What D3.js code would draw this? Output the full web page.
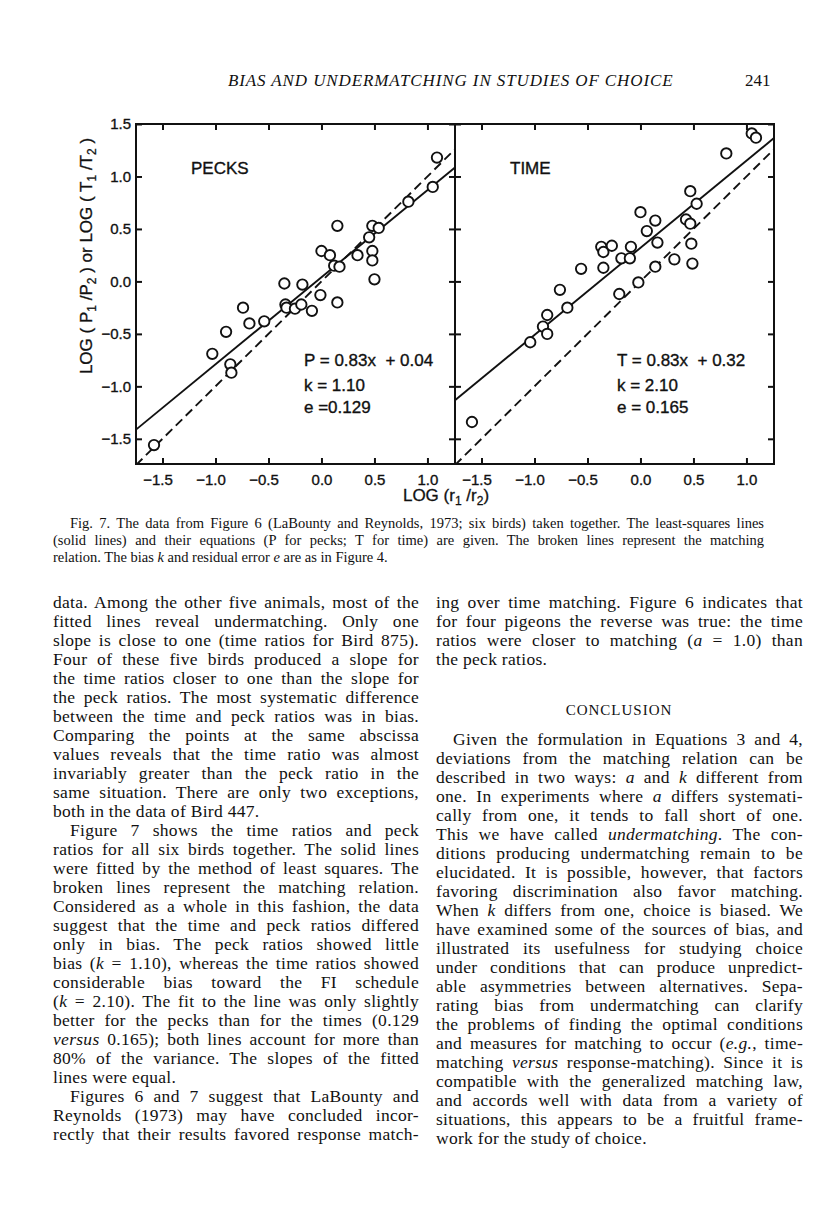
<!DOCTYPE html>
<html>
<head>
<meta charset="utf-8">
<script src="https://cdn.jsdelivr.net/npm/d3@7"></script>
<style>
body { margin: 0; background: #fff; }
svg { display: block; }
</style>
</head>
<body>
<script>
// tick values shared by both panels
var xTicks = [-1.5, -1.0, -0.5, 0.0, 0.5, 1.0];
var yTicks = [-1.5, -1.0, -0.5, 0.0, 0.5, 1.0, 1.5];

// log(r1/r2) vs log(P1/P2), pecks
var peckX = [-1.58, -1.03, -0.90, -0.86, -0.85, -0.74, -0.68, -0.54, -0.35, -0.34, -0.33, -0.25, -0.19, -0.18, -0.09, -0.01, 0.00, 0.08, 0.12, 0.17, 0.15, 0.15, 0.34, 0.45, 0.48, 0.54, 0.48, 0.48, 0.50, 0.82, 1.05, 1.09];
var peckY = [-1.56, -0.69, -0.48, -0.79, -0.87, -0.25, -0.40, -0.38, -0.02, -0.22, -0.25, -0.26, -0.22, -0.03, -0.28, -0.13, 0.29, 0.25, 0.15, 0.14, -0.20, 0.53, 0.25, 0.42, 0.53, 0.51, 0.29, 0.20, 0.02, 0.76, 0.90, 1.18];

// log(r1/r2) vs log(T1/T2), time
var timeX = [-1.59, -1.04, -0.92, -0.88, -0.88, -0.76, -0.69, -0.56, -0.37, -0.35, -0.27, -0.35, -0.20, -0.18, -0.10, -0.09, -0.02, 0.00, 0.06, 0.14, 0.14, 0.16, 0.32, 0.43, 0.47, 0.47, 0.53, 0.48, 0.49, 0.81, 1.05, 1.09];
var timeY = [-1.34, -0.58, -0.43, -0.32, -0.50, -0.08, -0.25, 0.12, 0.33, 0.28, 0.34, 0.13, -0.12, 0.22, 0.22, 0.33, -0.01, 0.66, 0.48, 0.58, 0.14, 0.37, 0.21, 0.59, 0.55, 0.86, 0.74, 0.36, 0.17, 1.22, 1.41, 1.37];

// least-squares fits [slope, intercept]
var peckFit = [0.83, 0.04];
var timeFit = [0.83, 0.32];

var peckLabels = ["PECKS", "P = 0.83x  + 0.04", "k = 1.10", "e =0.129"];
var timeLabels = ["TIME", "T = 0.83x  + 0.32", "k = 2.10", "e = 0.165"];

var header = "BIAS AND UNDERMATCHING IN STUDIES OF CHOICE";
var pageNo = "241";

var caption = [
  "Fig. 7. The data from Figure 6 (LaBounty and Reynolds, 1973; six birds) taken together. The least-squares lines",
  "(solid lines) and their equations (P for pecks; T for time) are given. The broken lines represent the matching",
  "relation. The bias *k* and residual error *e* are as in Figure 4."
];

var leftParas = [
  ["data. Among the other five animals, most of the",
   "fitted lines reveal undermatching. Only one",
   "slope is close to one (time ratios for Bird 875).",
   "Four of these five birds produced a slope for",
   "the time ratios closer to one than the slope for",
   "the peck ratios. The most systematic difference",
   "between the time and peck ratios was in bias.",
   "Comparing the points at the same abscissa",
   "values reveals that the time ratio was almost",
   "invariably greater than the peck ratio in the",
   "same situation. There are only two exceptions,",
   "both in the data of Bird 447."],
  ["Figure 7 shows the time ratios and peck",
   "ratios for all six birds together. The solid lines",
   "were fitted by the method of least squares. The",
   "broken lines represent the matching relation.",
   "Considered as a whole in this fashion, the data",
   "suggest that the time and peck ratios differed",
   "only in bias. The peck ratios showed little",
   "bias (*k* = 1.10), whereas the time ratios showed",
   "considerable bias toward the FI schedule",
   "(*k* = 2.10). The fit to the line was only slightly",
   "better for the pecks than for the times (0.129",
   "*versus* 0.165); both lines account for more than",
   "80% of the variance. The slopes of the fitted",
   "lines were equal."],
  ["Figures 6 and 7 suggest that LaBounty and",
   "Reynolds (1973) may have concluded incor-",
   "rectly that their results favored response match-"]
];

var rightTop = [
  ["ing over time matching. Figure 6 indicates that",
   "for four pigeons the reverse was true: the time",
   "ratios were closer to matching (*a* = 1.0) than",
   "the peck ratios."]
];

var heading = "CONCLUSION";

var rightParas = [
  ["Given the formulation in Equations 3 and 4,",
   "deviations from the matching relation can be",
   "described in two ways: *a* and *k* different from",
   "one. In experiments where *a* differs systemati-",
   "cally from one, it tends to fall short of one.",
   "This we have called *undermatching*. The con-",
   "ditions producing undermatching remain to be",
   "elucidated. It is possible, however, that factors",
   "favoring discrimination also favor matching.",
   "When *k* differs from one, choice is biased. We",
   "have examined some of the sources of bias, and",
   "illustrated its usefulness for studying choice",
   "under conditions that can produce unpredict-",
   "able asymmetries between alternatives. Sepa-",
   "rating bias from undermatching can clarify",
   "the problems of finding the optimal conditions",
   "and measures for matching to occur (*e.g.*, time-",
   "matching *versus* response-matching). Since it is",
   "compatible with the generalized matching law,",
   "and accords well with data from a variety of",
   "situations, this appears to be a fruitful frame-",
   "work for the study of choice."]
];

var ink = "#111";
var serif = "'Liberation Serif', 'Times New Roman', serif";
var sans = "'Liberation Sans', Arial, sans-serif";

var svg = d3.select("body").append("svg")
  .attr("width", 816).attr("height", 1207)
  .style("background", "#fff");

// ---------- text helpers ----------
function writeLine(g, str, x, yb, width, justify) {
  var t = g.append("text").attr("x", x).attr("y", yb).attr("fill", ink);
  str.split("*").forEach(function(part, i) {
    if (part) t.append("tspan").attr("font-style", i % 2 ? "italic" : null).text(part);
  });
  if (justify) {
    var len = t.node().getComputedTextLength();
    var spaces = (str.match(/ /g) || []).length;
    if (spaces) t.attr("word-spacing", (width - len) / spaces);
  }
  return t;
}

function writeBlock(g, paras, x, y0, width, lead, firstIndent, openEnd) {
  var yb = y0;
  paras.forEach(function(lines, pi) {
    lines.forEach(function(line, li) {
      var ind = (li == 0 && (pi > 0 || firstIndent)) ? 17 : 0;
      var isLast = li == lines.length - 1 && !(openEnd && pi == paras.length - 1);
      writeLine(g, line, x + ind, yb, width - ind, !isLast);
      yb += lead;
    });
  });
  return yb;
}

// ---------- header ----------
var head = svg.append("g").attr("font-family", serif).attr("font-size", 17);
writeLine(head, header, 228, 86, 445, false)
  .attr("font-style", "italic").attr("letter-spacing", 0.4)
  .attr("textLength", 445).attr("lengthAdjust", "spacing");
head.append("text").attr("x", 745).attr("y", 86).attr("fill", ink).text(pageNo);

// ---------- chart ----------
var plotTop = 124, plotBottom = 464;
var y = d3.scaleLinear().domain([-1.74, 1.5]).range([plotBottom, plotTop]);
var edges = [[136, 455], [455, 774]];
var xs = edges.map(function(e) { return d3.scaleLinear().domain([-1.75, 1.26]).range(e); });
var fmt = d3.format(".1f");

var panels = [
  {x: xs[0], px: peckX, py: peckY, fit: peckFit, labels: peckLabels},
  {x: xs[1], px: timeX, py: timeY, fit: timeFit, labels: timeLabels}
];

var chart = svg.append("g").attr("font-family", sans).attr("fill", ink);

panels.forEach(function(p, i) {
  var x = p.x;
  var dom = x.domain();
  var clipId = "clip" + i;
  svg.append("clipPath").attr("id", clipId).append("rect")
    .attr("x", x.range()[0]).attr("y", plotTop)
    .attr("width", x.range()[1] - x.range()[0]).attr("height", plotBottom - plotTop);

  var g = chart.append("g").attr("clip-path", "url(#" + clipId + ")");
  var line = d3.line().x(function(d) { return x(d[0]); }).y(function(d) { return y(d[1]); });

  // matching relation (broken line)
  g.append("path")
    .attr("d", line(dom.map(function(v) { return [v, v]; })))
    .attr("fill", "none").attr("stroke", ink).attr("stroke-width", 1.9)
    .attr("stroke-dasharray", "9,5");

  // fitted line
  g.append("path")
    .attr("d", line(dom.map(function(v) { return [v, p.fit[0] * v + p.fit[1]]; })))
    .attr("fill", "none").attr("stroke", ink).attr("stroke-width", 1.9);

  g.selectAll("circle").data(p.px).enter().append("circle")
    .attr("cx", function(d) { return x(d); })
    .attr("cy", function(d, j) { return y(p.py[j]); })
    .attr("r", 5.2)
    .attr("fill", "#fff").attr("stroke", ink).attr("stroke-width", 1.9);

  // ticks top and bottom
  var bAxis = chart.append("g").attr("transform", "translate(0," + plotBottom + ")")
    .call(d3.axisBottom(x).tickValues(xTicks).tickSize(-6).tickPadding(10).tickFormat(fmt));
  bAxis.selectAll("text").attr("dx", function(d) { return d < 0 ? -5 : 0; });
  chart.append("g").attr("transform", "translate(0," + plotTop + ")")
    .call(d3.axisTop(x).tickValues(xTicks).tickSize(-6).tickFormat(""));

  var x0 = x.range()[0];
  var lab = chart.append("g").attr("font-size", 17).attr("stroke", ink).attr("stroke-width", 0.35);
  lab.append("text").attr("x", x0 + 55).attr("y", 174).text(p.labels[0]);
  var ex = x0 + 168 - i * 6;
  lab.append("text").attr("x", ex).attr("y", 366)
    .style("white-space", "pre").text(p.labels[1]);
  lab.append("text").attr("x", ex).attr("y", 391).text(p.labels[2]);
  lab.append("text").attr("x", ex).attr("y", 413).text(p.labels[3]);
});

// y ticks: left with labels, middle on both sides, right edge
chart.append("g").attr("transform", "translate(136,0)")
  .call(d3.axisLeft(y).tickValues(yTicks).tickSize(-6).tickPadding(5).tickFormat(fmt));
chart.append("g").attr("transform", "translate(455,0)")
  .call(d3.axisLeft(y).tickValues(yTicks).tickSize(6).tickFormat(""));
chart.append("g").attr("transform", "translate(455,0)")
  .call(d3.axisRight(y).tickValues(yTicks).tickSize(6).tickFormat(""));
chart.append("g").attr("transform", "translate(774,0)")
  .call(d3.axisRight(y).tickValues(yTicks).tickSize(-6).tickFormat(""));

chart.selectAll(".domain").remove();
chart.selectAll(".tick line").attr("stroke", ink).attr("stroke-width", 2);
chart.selectAll(".tick text").attr("fill", ink).attr("font-size", 15).attr("font-family", sans)
  .attr("stroke", ink).attr("stroke-width", 0.35);

// frames
edges.forEach(function(e) {
  chart.append("rect").attr("x", e[0]).attr("y", plotTop)
    .attr("width", e[1] - e[0]).attr("height", plotBottom - plotTop)
    .attr("fill", "none").attr("stroke", ink).attr("stroke-width", 2);
});

// axis titles
var yt = chart.append("text").attr("transform", "translate(92,256) rotate(-90)")
  .attr("text-anchor", "middle").attr("font-size", 17)
  .attr("stroke", ink).attr("stroke-width", 0.3);
[["LOG ( P", 0], ["1", 4], [" /P", -4], ["2", 4], [" ) or LOG ( T", -4], ["1", 4], [" /T", -4], ["2", 4], [" )", -4]]
  .forEach(function(s) {
    yt.append("tspan").attr("dy", s[1]).attr("font-size", s[1] > 0 ? 12 : 17).text(s[0]);
  });

var xt = chart.append("text").attr("x", 446).attr("y", 501)
  .attr("text-anchor", "middle").attr("font-size", 17)
  .attr("stroke", ink).attr("stroke-width", 0.3);
[["LOG (r", 0], ["1", 4], [" /r", -4], ["2", 4], [")", -4]].forEach(function(s) {
  xt.append("tspan").attr("dy", s[1]).attr("font-size", s[1] > 0 ? 12 : 17).text(s[0]);
});

// ---------- caption ----------
var cap = svg.append("g").attr("font-family", serif).attr("font-size", 14.5);
writeBlock(cap, [caption], 53, 528, 711, 17, true, false);

// ---------- body columns ----------
var body = svg.append("g").attr("font-family", serif).attr("font-size", 17.5).attr("letter-spacing", 0.3);
writeBlock(body, leftParas, 53, 608, 366, 19, false, true);
writeBlock(body, rightTop, 436, 608, 367, 19, false, false);
body.append("text").attr("x", 619).attr("y", 715).attr("text-anchor", "middle")
  .attr("font-size", 15).attr("letter-spacing", 1).attr("fill", ink).text(heading);
writeBlock(body, rightParas, 436, 745, 367, 19, true, false);
</script>
</body>
</html>
